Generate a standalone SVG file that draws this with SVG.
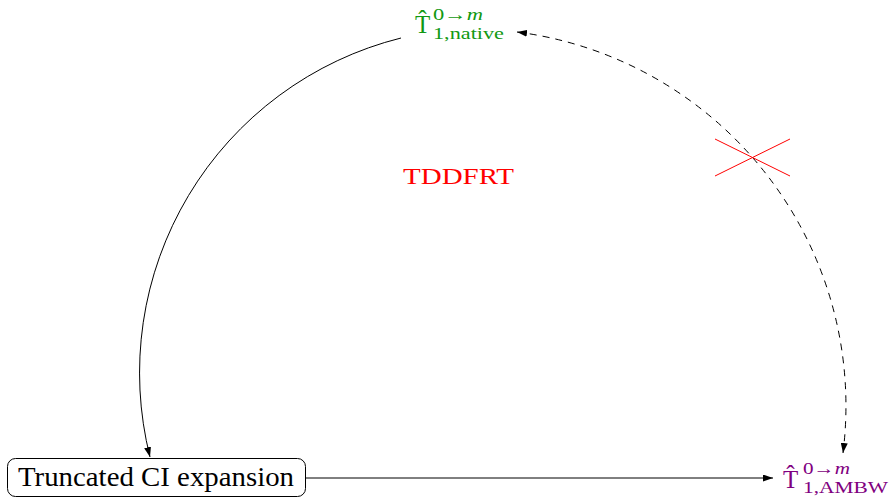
<svg xmlns="http://www.w3.org/2000/svg" width="891" height="498" viewBox="0 0 891 498">
  <style>
    .serif { font-family: "Liberation Serif", "DejaVu Serif", serif; }
    .edge { fill: none; stroke: #000; stroke-width: 1; }
    .dashed { stroke-dasharray: 7 6; }
    .green { fill: #119911; }
    .purple { fill: #800080; }
    .red { fill: #ff0000; }
    .cross { stroke: #ff0000; stroke-width: 1; }
  </style>
  <defs>
    <marker id="arrow" markerUnits="userSpaceOnUse" markerWidth="10" markerHeight="7" refX="10" refY="3.5" orient="auto-start-reverse" viewBox="0 0 10 7">
      <path d="M0,0 L10,3.5 L0,7 Z" fill="#000"/>
    </marker>
  </defs>

  <g id="connectors">
    <path class="edge" d="M401,38 A345,345 0 0 0 150,457" marker-end="url(#arrow)"/>
    <path class="edge dashed" d="M517,32 A377,377 0 0 1 843,453" marker-start="url(#arrow)" marker-end="url(#arrow)"/>
    <path class="edge" d="M306,478 L773,478" marker-end="url(#arrow)"/>
  </g>

  <g id="node-truncated">
    <rect x="7.5" y="458.5" width="298" height="38" rx="8" ry="8" fill="#fff" stroke="#000" stroke-width="1"/>
    <text class="serif" x="156" y="486" font-size="27" text-anchor="middle" textLength="276" lengthAdjust="spacingAndGlyphs">Truncated CI expansion</text>
  </g>

  <g id="node-native" class="serif green">
    <text x="415" y="33" font-size="25">T&#x302;</text>
    <text x="433" y="20" font-size="17" textLength="50" lengthAdjust="spacingAndGlyphs">0→<tspan font-style="italic">m</tspan></text>
    <text x="433" y="39" font-size="17" textLength="71" lengthAdjust="spacingAndGlyphs">1,native</text>
  </g>

  <g id="node-ambw" class="serif purple">
    <text x="783" y="488" font-size="25">T&#x302;</text>
    <text x="803" y="474" font-size="17" textLength="47" lengthAdjust="spacingAndGlyphs">0→<tspan font-style="italic">m</tspan></text>
    <text x="803" y="493" font-size="17" textLength="85" lengthAdjust="spacingAndGlyphs">1,AMBW</text>
  </g>

  <g id="label-tddfrt">
    <text class="serif red" x="403" y="184" font-size="24" textLength="111" lengthAdjust="spacingAndGlyphs">TDDFRT</text>
  </g>

  <g id="cross">
    <line class="cross" x1="715" y1="139" x2="790" y2="176"/>
    <line class="cross" x1="715" y1="176" x2="790" y2="139"/>
  </g>
</svg>
